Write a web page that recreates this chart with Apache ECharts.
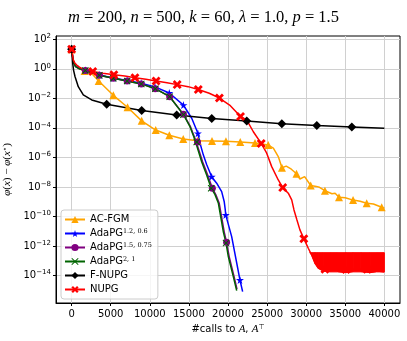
<!DOCTYPE html>
<html>
<head>
<meta charset="utf-8">
<script src="https://cdn.jsdelivr.net/npm/echarts@6/dist/echarts.min.js"></script>
<style>
  html, body { margin: 0; padding: 0; background: #fff; }
  #chart { width: 407px; height: 341px; }
</style>
</head>
<body>
<div id="chart"></div>
<script>
// x: #calls to A, A^T   y: phi(x) - phi(x*)
const xTicks = [0, 5000, 10000, 15000, 20000, 25000, 30000, 35000, 40000];
const yTickExps = [-14, -12, -10, -8, -6, -4, -2, 0, 2];

const acfgmCalls = [0, 200, 500, 1000, 1650, 2560, 3460, 5330, 7150, 8960, 10750, 12490, 14280, 16120, 17950, 19740, 21570, 23450, 25150, 25800, 26430, 26900, 27450, 28100, 28760, 29200, 29800, 30580, 31300, 31700, 32400, 33300, 33700, 34200, 35000, 36000, 36900, 37740, 38600, 39660, 40000];
const acfgmGap = [21, 4.0, 1.6, 1.0, 0.71, 0.48, 0.15, 0.016, 2.5e-3, 3.0e-4, 7.2e-5, 3.2e-5, 1.8e-5, 1.35e-5, 1.3e-5, 1.23e-5, 1.12e-5, 9.5e-6, 6.9e-6, 4.3e-6, 1.15e-6, 2.0e-7, 2.6e-7, 1.6e-7, 7.9e-8, 3.5e-8, 5.0e-8, 1.26e-8, 1.1e-8, 9.5e-9, 5.6e-9, 3.5e-9, 3.8e-9, 2.0e-9, 1.9e-9, 1.3e-9, 1.1e-9, 7.9e-10, 7.1e-10, 4.3e-10, 3.8e-10];
const acfgmMarkAt = [0, 1650, 3460, 5330, 7150, 8960, 10750, 12490, 14280, 16120, 17950, 19740, 21570, 23450, 25150, 26900, 28760, 30580, 32400, 34200, 36000, 37740, 39660];

const ada1Calls = [0, 200, 500, 1000, 1750, 3540, 5330, 7100, 8900, 10660, 12490, 14300, 15360, 16150, 16420, 16840, 17280, 17910, 18550, 19190, 19520, 19640, 19710, 20470, 21530, 21870];
const ada1Gap = [21, 3.5, 1.6, 1.05, 0.79, 0.38, 0.24, 0.16, 0.105, 0.06, 0.023, 3.5e-3, 4.5e-4, 4.3e-5, 9.1e-6, 1.5e-6, 3.2e-7, 5.0e-8, 1.8e-8, 4.9e-9, 1.0e-9, 3.2e-10, 1.3e-10, 4.4e-12, 5.1e-15, 8.3e-16];
const ada1MarkAt = [0, 1750, 3540, 5330, 7100, 8900, 10660, 12490, 14300, 16150, 17910, 19710, 21530];

const ada2Calls = [0, 200, 500, 1000, 1750, 3540, 5330, 7100, 8910, 10700, 12540, 14300, 15200, 15850, 16100, 16300, 16750, 17400, 18000, 18450, 18880, 19520, 19820, 20150, 20780, 21150];
const ada2Gap = [21, 3.2, 1.4, 1.0, 0.76, 0.36, 0.23, 0.15, 0.095, 0.045, 0.013, 8.5e-4, 1.2e-4, 1.5e-5, 1.1e-5, 2.8e-6, 5.2e-7, 6.6e-8, 8.3e-9, 3.0e-9, 7.9e-10, 8.9e-12, 1.8e-12, 1.95e-13, 8.7e-15, 1.2e-15];
const ada2MarkAt = [0, 1750, 3540, 5330, 7100, 8910, 10700, 12540, 14300, 16100, 18000, 19820];

const ada3Calls = [0, 200, 500, 1000, 1750, 3540, 5330, 7100, 8910, 10700, 12540, 14300, 15140, 15780, 16000, 16200, 16630, 17270, 17850, 18340, 18770, 19410, 19750, 20040, 20680, 21110];
const ada3Gap = [21, 3.2, 1.4, 1.0, 0.76, 0.36, 0.23, 0.15, 0.095, 0.045, 0.013, 7.9e-4, 1.2e-4, 1.5e-5, 1.1e-5, 2.8e-6, 5.2e-7, 6.6e-8, 8.3e-9, 3.0e-9, 7.9e-10, 8.9e-12, 1.6e-12, 1.95e-13, 8.7e-15, 9.8e-16];
const ada3MarkAt = [0, 1750, 3540, 5330, 7100, 8910, 10700, 12540, 14300, 16000, 17850, 19750];

const fnupgCalls = [0, 60, 136, 250, 430, 850, 1490, 2570, 4480, 8960, 13440, 17920, 22400, 26880, 31360, 35840, 40000];
const fnupgGap = [21, 7.9, 2.3, 0.79, 0.3, 0.062, 0.017, 7.8e-3, 4.0e-3, 1.5e-3, 7.4e-4, 4.4e-4, 2.95e-4, 1.9e-4, 1.45e-4, 1.17e-4, 9.3e-5];
const fnupgMarkAt = [0, 4480, 8960, 13440, 17920, 22400, 26880, 31360, 35840];

const nupgCalls = [0, 100, 213, 400, 650, 1000, 1290, 2700, 4000, 5400, 6800, 8100, 9500, 10800, 12200, 13500, 14900, 16200, 17600, 18900, 20300, 21600, 22390, 23240, 24250, 24950, 25590, 26430, 27000, 27710, 28150, 28440, 28800, 29200, 29700, 30270, 30700, 31130, 31550, 32190, 32400, 35100, 37800, 40000];
const nupgGap = [21, 10, 4.0, 2.5, 1.8, 1.3, 1.07, 0.66, 0.5, 0.39, 0.32, 0.25, 0.195, 0.15, 0.115, 0.085, 0.062, 0.04, 0.022, 0.0105, 3.2e-3, 6.0e-4, 3.5e-4, 5.5e-5, 8.9e-6, 1.95e-6, 2.4e-7, 3.0e-8, 9.1e-9, 3.8e-9, 1.35e-9, 2.8e-10, 6.3e-11, 1.26e-11, 3.2e-12, 7.2e-13, 2.5e-13, 6.9e-14, 3.2e-14, 2.1e-14, 2.7e-14, 2.6e-14, 2.7e-14, 1.8e-14];
const nupgMarkAt = [0, 2700, 5400, 8100, 10800, 13500, 16200, 18900, 21600, 24250, 27000, 29700, 32400, 35100, 37800];

// NUPG oscillates between these two envelopes at the tail
const nupgBandCalls = [30450, 30700, 31130, 31550, 32190, 33000, 34000, 35100, 36000, 37000, 38200, 39000, 40000];
const nupgBandLow = [3.6e-13, 2.5e-13, 6.9e-14, 3.2e-14, 2.1e-14, 1.8e-14, 1.8e-14, 1.6e-14, 1.8e-14, 1.8e-14, 1.6e-14, 1.8e-14, 1.8e-14];
const nupgBandHigh = [3.6e-13, 3.6e-13, 3.6e-13, 3.6e-13, 3.6e-13, 3.6e-13, 3.6e-13, 3.6e-13, 3.6e-13, 3.6e-13, 3.6e-13, 3.6e-13, 3.6e-13];

const starPath = 'path://M50,0 L61,35 L98,35 L68,57 L79,91 L50,70 L21,91 L32,57 L2,35 L39,35 Z';
const bigXPath = 'path://M22,0 L50,28 L78,0 L100,22 L72,50 L100,78 L78,100 L50,72 L22,100 L0,78 L28,50 L0,22 Z';
const thinXPath = 'path://M10,0 L50,40 L90,0 L100,10 L60,50 L100,90 L90,100 L50,60 L10,100 L0,90 L40,50 L0,10 Z';

const legendText = {
  'AC-FGM': 'AC-FGM',
  'AdaPG-1': 'AdaPG{s|1.2, 0.6}',
  'AdaPG-2': 'AdaPG{s|1.5, 0.75}',
  'AdaPG-3': 'AdaPG{s|2, 1}',
  'F-NUPG': 'F-NUPG',
  'NUPG': 'NUPG'
};

function build(calls, gaps, marks) {
  return calls.map((c, i) => {
    const item = { value: [c, Math.log10(gaps[i])] };
    if (marks.indexOf(c) < 0) item.symbol = 'none';
    return item;
  });
}

function lineSeries(name, color, symbol, size, calls, gaps, marks) {
  return {
    name: name,
    type: 'line',
    data: build(calls, gaps, marks),
    symbol: symbol,
    symbolSize: size,
    showSymbol: true,
    showAllSymbol: true,
    color: color,
    itemStyle: { color: color },
    lineStyle: { color: color, width: 1.5 },
    animation: false
  };
}

function supExp(e) {
  return '{b|10}{s|' + (e < 0 ? '\u2212' + (-e) : e) + '}';
}

const chart = echarts.init(document.getElementById('chart'));
const option = {
  backgroundColor: '#fff',
  animation: false,
  title: {
    text: '{i|m} = 200, {i|n} = 500, {i|k} = 60, {i|\u03bb} = 1.0, {i|p} = 1.5',
    left: 'center',
    top: 4,
    textStyle: {
      fontFamily: 'Liberation Serif',
      fontSize: 16.5,
      fontWeight: 'normal',
      color: '#000',
      rich: {
        i: { fontFamily: 'Liberation Serif', fontStyle: 'italic', fontSize: 16.5, color: '#000' }
      }
    }
  },
  grid: {
    left: 56, top: 36, width: 344, height: 267,
    outerBoundsMode: 'none',
    containLabel: false,
    show: true, borderColor: '#000', borderWidth: 1, backgroundColor: '#fff'
  },
  legend: {
    data: ['AC-FGM', 'AdaPG-1', 'AdaPG-2', 'AdaPG-3', 'F-NUPG', 'NUPG'],
    orient: 'vertical',
    left: 61,
    top: 210,
    padding: [4, 6, 4, 3],
    itemWidth: 20,
    itemHeight: 9,
    itemGap: 3,
    backgroundColor: 'rgba(255,255,255,0.8)',
    borderColor: '#cccccc',
    borderWidth: 1,
    borderRadius: 3,
    formatter: name => legendText[name],
    textStyle: {
      fontFamily: 'DejaVu Sans',
      fontSize: 10,
      color: '#000',
      lineHeight: 11,
      rich: {
        s: { fontFamily: 'DejaVu Serif', fontSize: 6.5, color: '#000', verticalAlign: 'top', lineHeight: 7 }
      }
    }
  },
  xAxis: {
    type: 'value',
    min: -2000,
    max: 42000,
    name: '#calls to {i|A}, {i|A}{s|\u22a4}',
    nameLocation: 'middle',
    nameGap: 19,
    nameTextStyle: {
      fontFamily: 'DejaVu Sans', fontSize: 10, color: '#000',
      rich: {
        i: { fontFamily: 'Liberation Serif', fontStyle: 'italic', fontSize: 11, color: '#000' },
        s: { fontFamily: 'DejaVu Sans', fontSize: 7, color: '#000', verticalAlign: 'top', lineHeight: 8 }
      }
    },
    axisLine: { show: true, onZero: false, lineStyle: { color: '#000', width: 1 } },
    axisTick: { show: true, length: 3, lineStyle: { color: '#000' }, customValues: xTicks },
    axisLabel: {
      customValues: xTicks,
      formatter: v => String(Math.round(v)),
      fontFamily: 'DejaVu Sans', fontSize: 10, color: '#000', margin: 6
    },
    splitLine: { show: true, lineStyle: { color: '#d0d0d0', width: 1 } }
  },
  yAxis: {
    type: 'value',
    min: -15.85,
    max: 2.22,
    name: '{i|\u03c6}({i|x}) \u2212 {i|\u03c6}({i|x}{s|\u22c6})',
    nameLocation: 'middle',
    nameGap: 38,
    nameTextStyle: {
      fontFamily: 'Liberation Serif', fontSize: 11, color: '#000',
      rich: {
        i: { fontFamily: 'Liberation Serif', fontStyle: 'italic', fontSize: 11, color: '#000' },
        s: { fontFamily: 'DejaVu Sans', fontSize: 7, color: '#000', verticalAlign: 'top', lineHeight: 8 }
      }
    },
    axisLine: { show: true, onZero: false, lineStyle: { color: '#000', width: 1 } },
    axisTick: { show: true, length: 3, lineStyle: { color: '#000' }, customValues: yTickExps },
    axisLabel: {
      customValues: yTickExps,
      margin: 5,
      formatter: v => supExp(Math.round(v)),
      rich: {
        b: { fontFamily: 'DejaVu Sans', fontSize: 10, color: '#000', lineHeight: 13 },
        s: { fontFamily: 'DejaVu Sans', fontSize: 7, color: '#000', verticalAlign: 'top', lineHeight: 8 }
      }
    },
    splitLine: { show: true, lineStyle: { color: '#d0d0d0', width: 1 } }
  },
  series: [
    lineSeries('AC-FGM', '#ffa500', 'triangle', 8, acfgmCalls, acfgmGap, acfgmMarkAt),
    lineSeries('AdaPG-1', '#0000ff', starPath, 8, ada1Calls, ada1Gap, ada1MarkAt),
    lineSeries('AdaPG-2', '#800080', 'circle', 7, ada2Calls, ada2Gap, ada2MarkAt),
    lineSeries('AdaPG-3', '#006400', thinXPath, 7, ada3Calls, ada3Gap, ada3MarkAt),
    lineSeries('F-NUPG', '#000000', 'diamond', 9, fnupgCalls, fnupgGap, fnupgMarkAt),
    lineSeries('NUPG', '#ff0000', bigXPath, 9, nupgCalls, nupgGap, nupgMarkAt),
    {
      // filled envelope of the NUPG oscillation, one quad per segment
      name: 'nupg-band',
      type: 'custom',
      data: nupgBandCalls.slice(0, -1).map((c, i) => [c, i]),
      encode: { x: 0 },
      clip: true,
      renderItem: function (params, api) {
        const i = params.dataIndex;
        const c0 = nupgBandCalls[i], c1 = nupgBandCalls[i + 1];
        const pts = [
          api.coord([c0, Math.log10(nupgBandHigh[i])]),
          api.coord([c1, Math.log10(nupgBandHigh[i + 1])]),
          api.coord([c1, Math.log10(nupgBandLow[i + 1])]),
          api.coord([c0, Math.log10(nupgBandLow[i])])
        ];
        return {
          type: 'polygon',
          shape: { points: pts },
          style: { fill: '#ff0000', stroke: '#ff0000', lineWidth: 1 }
        };
      },
      animation: false
    }
  ]
};
chart.setOption(option);
</script>
</body>
</html>
